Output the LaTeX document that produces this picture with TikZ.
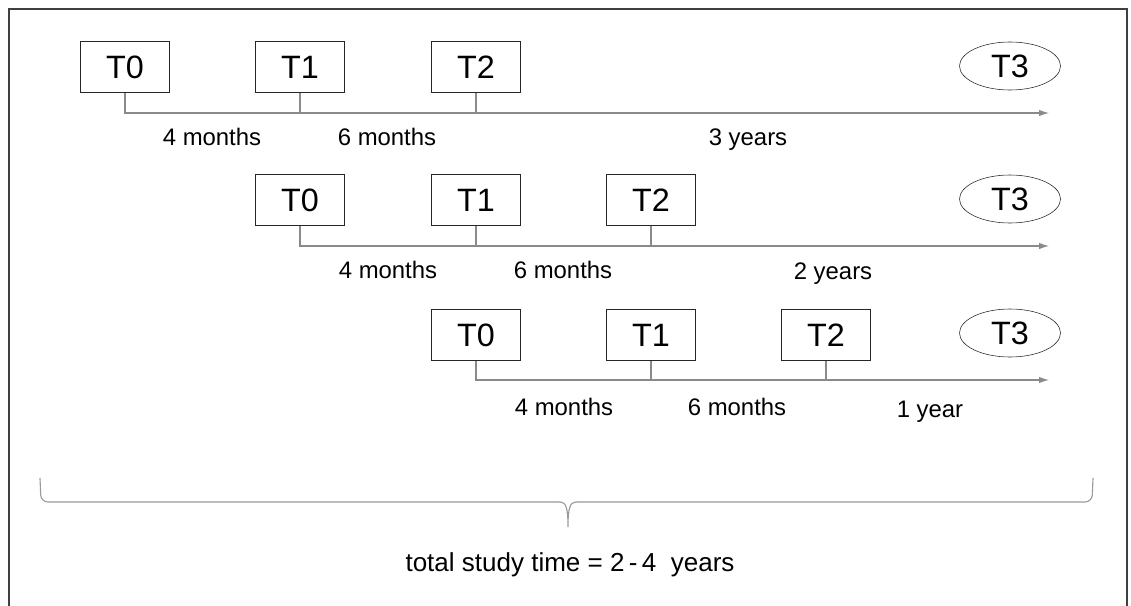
\documentclass[tikz,border=0pt]{standalone}
\usepackage{fontspec}
\setmainfont{Liberation Sans}
\usetikzlibrary{arrows.meta}
\usetikzlibrary{shapes.geometric}

\definecolor{linegray}{HTML}{8A8A8A}
\definecolor{framegray}{HTML}{404040}
\definecolor{bracegray}{HTML}{9A9A9A}

\tikzset{
	tbox/.style={rectangle,draw=black!85,thin,minimum width=2.225cm,minimum height=1.275cm,font=\fontsize{23}{25}\selectfont},
	tend/.style={ellipse,draw=black!85,thin,minimum width=2.525cm,minimum height=1.2cm,inner sep=0pt,font=\fontsize{23}{25}\selectfont},
	span/.style={font=\fontsize{17}{19}\selectfont,text height=1.6ex,text depth=.3ex},
	axis/.style={draw=linegray,thick},
	tip/.style={-{Latex[length=7pt,width=4.5pt]}},
}

\begin{document}
\begin{tikzpicture}[x=0.025cm,y=-0.025cm]
		\useasboundingbox (0,0) rectangle (1131,605);
		\draw[framegray,line width=1.4pt] (9,610) -- (9,9) -- (1127,9) -- (1127,610);

		% first row
		\begin{scope}[every node/.style={tbox}]
			\node (r1t0) at (125,67) {T0};
			\node (r1t1) at (300,67) {T1};
			\node (r1t2) at (476,67) {T2};
		\end{scope}
		\node[tend] (r1t3) at (1010,66) {T3};
		\coordinate (r1end) at (1049,113);

		% second row
		\begin{scope}[every node/.style={tbox}]
			\node (r2t0) at (300,200) {T0};
			\node (r2t1) at (476,200) {T1};
			\node (r2t2) at (651,200) {T2};
		\end{scope}
		\node[tend] (r2t3) at (1010,199) {T3};
		\coordinate (r2end) at (1049,246);

		% third row
		\begin{scope}[every node/.style={tbox}]
			\node (r3t0) at (476,335) {T0};
			\node (r3t1) at (651,335) {T1};
			\node (r3t2) at (826,335) {T2};
		\end{scope}
		\node[tend] (r3t3) at (1010,333) {T3};
		\coordinate (r3end) at (1049,380);

		\begin{scope}[every path/.style={axis}]
			\path [tip] (r1t0.south) |- (r1end);
			\path (r1t1.south) -- (r1t1.south |- r1end);
			\path (r1t2.south) -- (r1t2.south |- r1end);
			\path [tip] (r2t0.south) |- (r2end);
			\path (r2t1.south) -- (r2t1.south |- r2end);
			\path (r2t2.south) -- (r2t2.south |- r2end);
			\path [tip] (r3t0.south) |- (r3end);
			\path (r3t1.south) -- (r3t1.south |- r3end);
			\path (r3t2.south) -- (r3t2.south |- r3end);
		\end{scope}

		\begin{scope}[every node/.style={span}]
			\node (r1a) at (212,141) {4 months};
			\node (r1b) at (387,141) {6 months};
			\node (r1c) at (748,141) {3 years};
			\node (r2a) at (388,274) {4 months};
			\node (r2b) at (563,274) {6 months};
			\node (r2c) at (833,275) {2 years};
			\node (r3a) at (564,411) {4 months};
			\node (r3b) at (737,411) {6 months};
			\node (r3c) at (930,413) {1 year};
		\end{scope}

		% brace over all three rows
		\draw[bracegray,thick,rounded corners=5pt] (40,478) -- (41,502) -- (560,502);
		\draw[bracegray,thick,rounded corners=5pt] (1093,478) -- (1092,502) -- (576,502);
		\draw[bracegray,thick] (560,502) .. controls (566,502) and (568,508) .. (568,527)
			.. controls (568,508) and (570,502) .. (576,502);
		\coordinate (tip) at (568,527);
		\node[span,font=\fontsize{18.5}{21}\selectfont] (total) at (570,567) {total study time = 2\,-\,4~ years};
	\end{tikzpicture}
\end{document}
